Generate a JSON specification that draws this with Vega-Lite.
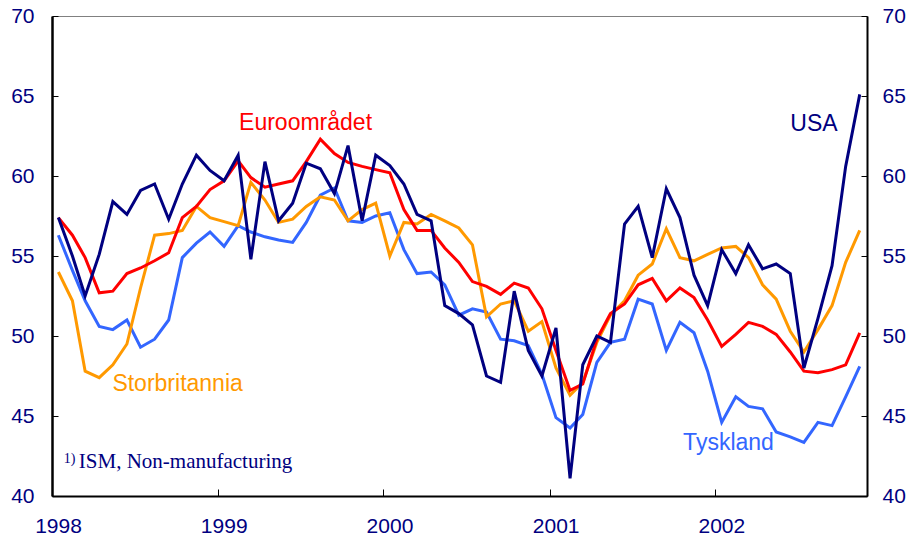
{
  "$schema": "https://vega.github.io/schema/vega-lite/v6.json",
  "width": 815,
  "height": 480,
  "autosize": {"type": "none"},
  "padding": {"left": 52, "top": 16, "right": 47, "bottom": 45},
  "background": "white",
  "config": {
    "view": {"stroke": "#808080", "strokeWidth": 1},
    "axis": {"grid": false, "title": null, "labelFont": "Liberation Sans", "labelFontSize": 21, "labelColor": "#000080", "domainColor": "#000000", "tickColor": "#000000", "tickWidth": 1}
  },
  "datasets": {
    "series": [
      {"date": "1998-01-15", "USA": 57.4, "Euroområdet": 57.4, "Tyskland": 56.3, "Storbritannia": 54.0},
      {"date": "1998-02-15", "USA": 55.0, "Euroområdet": 56.3, "Tyskland": 54.1, "Storbritannia": 52.2},
      {"date": "1998-03-15", "USA": 52.5, "Euroområdet": 54.9, "Tyskland": 52.2, "Storbritannia": 47.8},
      {"date": "1998-04-15", "USA": 55.1, "Euroområdet": 52.7, "Tyskland": 50.6, "Storbritannia": 47.4},
      {"date": "1998-05-15", "USA": 58.4, "Euroområdet": 52.8, "Tyskland": 50.4, "Storbritannia": 48.2},
      {"date": "1998-06-15", "USA": 57.6, "Euroområdet": 53.9, "Tyskland": 51.0, "Storbritannia": 49.5},
      {"date": "1998-07-15", "USA": 59.1, "Euroområdet": 54.25, "Tyskland": 49.3, "Storbritannia": 53.0},
      {"date": "1998-08-15", "USA": 59.5, "Euroområdet": 54.7, "Tyskland": 49.8, "Storbritannia": 56.3},
      {"date": "1998-09-15", "USA": 57.3, "Euroområdet": 55.2, "Tyskland": 51.0, "Storbritannia": 56.4},
      {"date": "1998-10-15", "USA": 59.5, "Euroområdet": 57.4, "Tyskland": 54.9, "Storbritannia": 56.6},
      {"date": "1998-11-15", "USA": 61.3, "Euroområdet": 58.1, "Tyskland": 55.8, "Storbritannia": 58.1},
      {"date": "1998-12-15", "USA": 60.35, "Euroområdet": 59.15, "Tyskland": 56.5, "Storbritannia": 57.4},
      {"date": "1999-01-15", "USA": 59.7, "Euroområdet": 59.7, "Tyskland": 55.6, "Storbritannia": 57.15},
      {"date": "1999-02-15", "USA": 61.3, "Euroområdet": 60.95, "Tyskland": 56.9, "Storbritannia": 56.9},
      {"date": "1999-03-15", "USA": 54.8, "Euroområdet": 59.9, "Tyskland": 56.5, "Storbritannia": 59.6},
      {"date": "1999-04-15", "USA": 60.9, "Euroområdet": 59.3, "Tyskland": 56.2, "Storbritannia": 58.5},
      {"date": "1999-05-15", "USA": 57.2, "Euroområdet": 59.5, "Tyskland": 56.0, "Storbritannia": 57.1},
      {"date": "1999-06-15", "USA": 58.3, "Euroområdet": 59.7, "Tyskland": 55.85, "Storbritannia": 57.3},
      {"date": "1999-07-15", "USA": 60.8, "Euroområdet": 60.9, "Tyskland": 57.1, "Storbritannia": 58.1},
      {"date": "1999-08-15", "USA": 60.45, "Euroområdet": 62.3, "Tyskland": 58.8, "Storbritannia": 58.7},
      {"date": "1999-09-15", "USA": 58.9, "Euroområdet": 61.4, "Tyskland": 59.25, "Storbritannia": 58.5},
      {"date": "1999-10-15", "USA": 61.9, "Euroområdet": 60.85, "Tyskland": 57.2, "Storbritannia": 57.2},
      {"date": "1999-11-15", "USA": 57.2, "Euroområdet": 60.6, "Tyskland": 57.1, "Storbritannia": 57.9},
      {"date": "1999-12-15", "USA": 61.3, "Euroområdet": 60.4, "Tyskland": 57.5, "Storbritannia": 58.3},
      {"date": "2000-01-15", "USA": 60.65, "Euroområdet": 60.2, "Tyskland": 57.7, "Storbritannia": 55.0},
      {"date": "2000-02-15", "USA": 59.5, "Euroområdet": 57.9, "Tyskland": 55.4, "Storbritannia": 57.1},
      {"date": "2000-03-15", "USA": 57.6, "Euroområdet": 56.6, "Tyskland": 53.9, "Storbritannia": 57.0},
      {"date": "2000-04-15", "USA": 57.2, "Euroområdet": 56.6, "Tyskland": 54.0, "Storbritannia": 57.6},
      {"date": "2000-05-15", "USA": 51.9, "Euroområdet": 55.5, "Tyskland": 53.2, "Storbritannia": 57.2},
      {"date": "2000-06-15", "USA": 51.4, "Euroområdet": 54.6, "Tyskland": 51.3, "Storbritannia": 56.75},
      {"date": "2000-07-15", "USA": 50.7, "Euroområdet": 53.4, "Tyskland": 51.7, "Storbritannia": 55.7},
      {"date": "2000-08-15", "USA": 47.5, "Euroområdet": 53.1, "Tyskland": 51.5, "Storbritannia": 51.2},
      {"date": "2000-09-15", "USA": 47.1, "Euroområdet": 52.6, "Tyskland": 49.8, "Storbritannia": 52.0},
      {"date": "2000-10-15", "USA": 52.8, "Euroområdet": 53.3, "Tyskland": 49.7, "Storbritannia": 52.2},
      {"date": "2000-11-15", "USA": 49.1, "Euroområdet": 53.0, "Tyskland": 49.4, "Storbritannia": 50.3},
      {"date": "2000-12-15", "USA": 47.5, "Euroområdet": 51.7, "Tyskland": 47.6, "Storbritannia": 50.9},
      {"date": "2001-01-15", "USA": 50.5, "Euroområdet": 49.1, "Tyskland": 44.9, "Storbritannia": 48.0},
      {"date": "2001-02-15", "USA": 41.1, "Euroområdet": 46.6, "Tyskland": 44.25, "Storbritannia": 46.3},
      {"date": "2001-03-15", "USA": 48.2, "Euroområdet": 47.0, "Tyskland": 45.1, "Storbritannia": 47.1},
      {"date": "2001-04-15", "USA": 50.0, "Euroområdet": 49.8, "Tyskland": 48.35, "Storbritannia": 49.6},
      {"date": "2001-05-15", "USA": 49.6, "Euroområdet": 51.4, "Tyskland": 49.6, "Storbritannia": 51.3},
      {"date": "2001-06-15", "USA": 57.0, "Euroområdet": 52.0, "Tyskland": 49.8, "Storbritannia": 52.2},
      {"date": "2001-07-15", "USA": 58.1, "Euroområdet": 53.2, "Tyskland": 52.3, "Storbritannia": 53.8},
      {"date": "2001-08-15", "USA": 54.9, "Euroområdet": 53.6, "Tyskland": 52.0, "Storbritannia": 54.5},
      {"date": "2001-09-15", "USA": 59.2, "Euroområdet": 52.2, "Tyskland": 49.1, "Storbritannia": 56.7},
      {"date": "2001-10-15", "USA": 57.4, "Euroområdet": 53.0, "Tyskland": 50.85, "Storbritannia": 54.9},
      {"date": "2001-11-15", "USA": 53.8, "Euroområdet": 52.4, "Tyskland": 50.2, "Storbritannia": 54.7},
      {"date": "2001-12-15", "USA": 51.9, "Euroområdet": 51.0, "Tyskland": 47.8, "Storbritannia": 55.1},
      {"date": "2002-01-15", "USA": 55.4, "Euroområdet": 49.35, "Tyskland": 44.6, "Storbritannia": 55.5},
      {"date": "2002-02-15", "USA": 53.9, "Euroområdet": 50.1, "Tyskland": 46.2, "Storbritannia": 55.6},
      {"date": "2002-03-15", "USA": 55.7, "Euroområdet": 50.85, "Tyskland": 45.6, "Storbritannia": 54.9},
      {"date": "2002-04-15", "USA": 54.2, "Euroområdet": 50.6, "Tyskland": 45.45, "Storbritannia": 53.2},
      {"date": "2002-05-15", "USA": 54.5, "Euroområdet": 50.1, "Tyskland": 44.0, "Storbritannia": 52.3},
      {"date": "2002-06-15", "USA": 53.9, "Euroområdet": 49.0, "Tyskland": 43.7, "Storbritannia": 50.3},
      {"date": "2002-07-15", "USA": 48.0, "Euroområdet": 47.8, "Tyskland": 43.35, "Storbritannia": 49.0},
      {"date": "2002-08-15", "USA": 51.1, "Euroområdet": 47.7, "Tyskland": 44.6, "Storbritannia": 50.4},
      {"date": "2002-09-15", "USA": 54.4, "Euroområdet": 47.9, "Tyskland": 44.4, "Storbritannia": 51.9},
      {"date": "2002-10-15", "USA": 60.6, "Euroområdet": 48.2, "Tyskland": 46.2, "Storbritannia": 54.6},
      {"date": "2002-11-15", "USA": 65.1, "Euroområdet": 50.2, "Tyskland": 48.1, "Storbritannia": 56.6}
    ],
    "labels": [
      {"serie": "Euroområdet", "date": "1999-02-17", "verdi": 62.85},
      {"serie": "USA", "date": "2002-06-15", "verdi": 62.83},
      {"serie": "Storbritannia", "date": "1998-05-14", "verdi": 46.54},
      {"serie": "Tyskland", "date": "2001-10-22", "verdi": 42.9}
    ],
    "note_mark": [{"text": "1)", "date": "1998-01-27", "verdi": 42.06}],
    "note_text": [{"text": "ISM, Non-manufacturing", "date": "1998-03-01", "verdi": 41.75}]
  },
  "layer": [
    {
      "data": {"name": "series"},
      "transform": [{"fold": ["Tyskland", "Storbritannia", "Euroområdet", "USA"], "as": ["serie", "verdi"]}],
      "mark": {"type": "line", "strokeWidth": 3, "strokeJoin": "miter"},
      "encoding": {
        "x": {
          "field": "date", "type": "temporal",
          "scale": {"type": "utc", "domain": [{"year": 1998, "month": 1, "date": 1, "utc": true}, {"year": 2002, "month": 12, "date": 1, "utc": true}]},
          "axis": {
            "values": [{"year": 1998, "utc": true}, {"year": 1999, "utc": true}, {"year": 2000, "utc": true}, {"year": 2001, "utc": true}, {"year": 2002, "utc": true}],
            "format": "%Y", "domainWidth": 2, "tickSize": -7, "labelPadding": 26, "labelOffset": 6, "labelFlush": false
          }
        },
        "y": {
          "field": "verdi", "type": "quantitative",
          "scale": {"domain": [40, 70], "nice": false, "zero": false},
          "axis": {"orient": "left", "values": [40, 45, 50, 55, 60, 65, 70], "domainWidth": 2.5, "tickSize": -6, "labelPadding": 24, "labelBaseline": "middle"}
        },
        "color": {
          "field": "serie", "type": "nominal",
          "scale": {"domain": ["Tyskland", "Storbritannia", "Euroområdet", "USA"], "range": ["#3366FF", "#FF9900", "#FF0000", "#000080"]},
          "legend": null
        }
      }
    },
    {
      "data": {"name": "labels"},
      "mark": {"type": "text", "font": "Liberation Sans", "fontSize": 23, "align": "left", "baseline": "alphabetic"},
      "encoding": {
        "x": {"field": "date", "type": "temporal"},
        "y": {
          "field": "verdi", "type": "quantitative",
          "axis": {"orient": "right", "values": [40, 45, 50, 55, 60, 65, 70], "domainWidth": 2, "tickSize": -6, "labelPadding": 21, "labelBaseline": "middle"}
        },
        "text": {"field": "serie"},
        "color": {"field": "serie", "type": "nominal", "legend": null}
      }
    },
    {
      "data": {"name": "note_mark"},
      "mark": {"type": "text", "font": "Liberation Serif", "fontSize": 14, "align": "left", "baseline": "alphabetic", "color": "#000080"},
      "encoding": {
        "x": {"field": "date", "type": "temporal"},
        "y": {"field": "verdi", "type": "quantitative", "axis": null},
        "text": {"field": "text"}
      }
    },
    {
      "data": {"name": "note_text"},
      "mark": {"type": "text", "font": "Liberation Serif", "fontSize": 21, "align": "left", "baseline": "alphabetic", "color": "#000080"},
      "encoding": {
        "x": {"field": "date", "type": "temporal"},
        "y": {"field": "verdi", "type": "quantitative", "axis": null},
        "text": {"field": "text"}
      }
    }
  ],
  "resolve": {"axis": {"y": "independent"}}
}
